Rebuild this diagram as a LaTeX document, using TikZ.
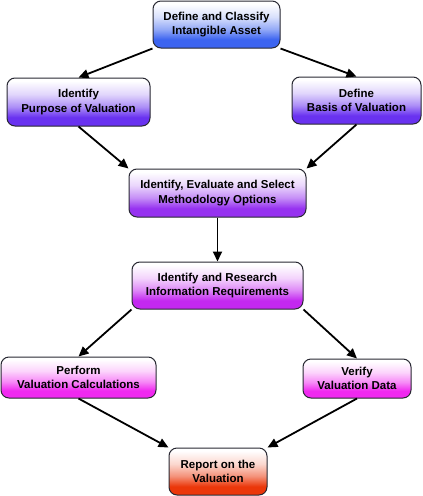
\documentclass[tikz,border=0pt]{standalone}
\usepackage{fontspec}
\setmainfont{Liberation Sans}
\usetikzlibrary{arrows.meta}
\pgfdeclareverticalshading[bcol]{boxshade}{100bp}{color(0bp)=(bcol); color(25bp)=(bcol); color(34bp)=(bcol); color(45bp)=(bcol!55!white); color(58bp)=(bcol!20!white); color(72bp)=(white); color(100bp)=(white)}
\definecolor{cblue}{RGB}{60,100,240}
\definecolor{cviolet}{RGB}{105,50,240}
\definecolor{cpurple}{RGB}{150,50,240}
\definecolor{cmauve}{RGB}{195,40,240}
\definecolor{cmagenta}{RGB}{240,40,240}
\definecolor{cred}{RGB}{235,55,10}
\begin{document}
\begin{tikzpicture}[x=1pt,y=-1pt,
  box/.style={draw={rgb,255:red,40;green,40;blue,50}, line width=1pt, rounded corners=8pt,
    /utils/exec={\colorlet{bcol}{#1}}, shading=boxshade, align=center,
    font=\bfseries\fontsize{11.5}{14.3}\selectfont, inner sep=0pt},
  link/.style={line width=1.8pt, -{Triangle[length=10pt,width=9pt]}}]
\path[use as bounding box] (0,0) rectangle (423,496);
\node[box=cblue, minimum width=127pt, minimum height=47pt] (top) at (216.5,24.5) {Define and Classify\\Intangible Asset};
\node[box=cviolet, minimum width=143pt, minimum height=48pt] (purpose) at (78.5,102) {Identify\\Purpose of Valuation};
\node[box=cviolet, minimum width=129pt, minimum height=47pt] (basis) at (356.5,100.5) {Define\\Basis of Valuation};
\node[box=cpurple, minimum width=177pt, minimum height=48pt] (meth) at (217.5,193) {Identify, Evaluate and Select\\Methodology Options};
\node[box=cmauve, minimum width=171pt, minimum height=47pt] (info) at (217.5,285.5) {Identify and Research\\Information Requirements};
\node[box=cmagenta, minimum width=155pt, minimum height=41pt] (perform) at (78.5,377.5) {Perform\\Valuation Calculations};
\node[box=cmagenta, minimum width=108pt, minimum height=39pt] (verify) at (357,378.5) {Verify\\Valuation Data};
\node[box=cred, minimum width=98pt, minimum height=47pt] (report) at (218,471.5) {Report on the\\Valuation};
\draw[link] (top.south west) -- (purpose.north);
\draw[link] (top.south east) -- (basis.north);
\draw[link] (purpose.south) -- (meth.north west);
\draw[link] (basis.south) -- (meth.north east);
\draw[link] (meth.south) -- (info.north);
\draw[link] (info.south west) -- (perform.north);
\draw[link] (info.south east) -- (verify.north);
\draw[link] (perform.south) -- (report.north west);
\draw[link] (verify.south) -- (report.north east);
\end{tikzpicture}
\end{document}
